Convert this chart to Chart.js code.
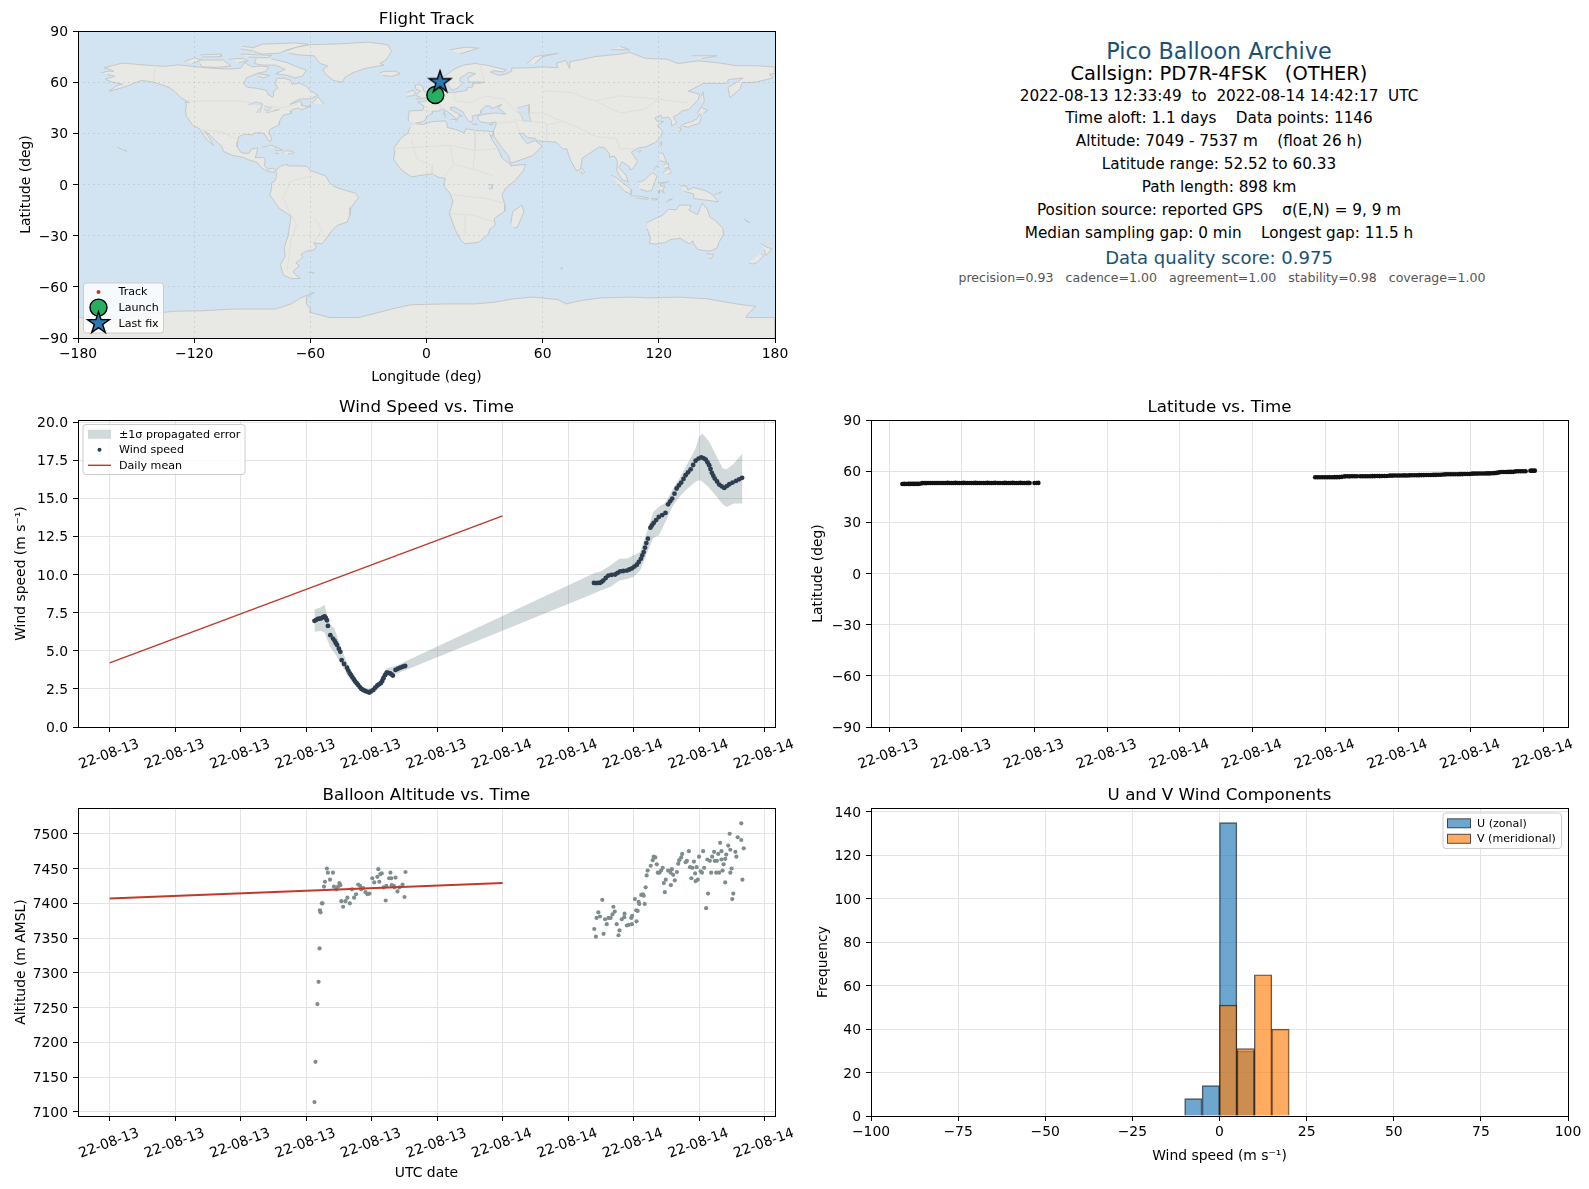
<!DOCTYPE html>
<html lang="en">
<head>
<meta charset="UTF-8" />
<title>Pico Balloon Archive</title>
<script src="https://cdn.jsdelivr.net/npm/chart.js"></script>
<style>
  body { margin:0; background:#fff; width:1589px; height:1189px; position:relative; overflow:hidden; font-family:"DejaVu Sans",sans-serif; }
  canvas { position:absolute; }
  .info { position:absolute; left:871px; width:696px; text-align:center; white-space:pre; line-height:1; transform:translateY(-50%); }
</style>
</head>
<body>
<canvas id="mapChart"></canvas>
<canvas id="windChart"></canvas>
<canvas id="latChart"></canvas>
<canvas id="altChart"></canvas>
<canvas id="histChart"></canvas>
<div class="info" style="top:51px;font-size:22.3px;color:#1a5276">Pico Balloon Archive</div>
<div class="info" style="top:74px;font-size:19.4px;color:#000">Callsign: PD7R-4FSK   (OTHER)</div>
<div class="info" style="top:97px;font-size:15.25px">2022-08-13 12:33:49  to  2022-08-14 14:42:17  UTC</div>
<div class="info" style="top:119px;font-size:15.25px">Time aloft: 1.1 days    Data points: 1146</div>
<div class="info" style="top:142px;font-size:15.25px">Altitude: 7049 - 7537 m    (float 26 h)</div>
<div class="info" style="top:165px;font-size:15.25px">Latitude range: 52.52 to 60.33</div>
<div class="info" style="top:188px;font-size:15.25px">Path length: 898 km</div>
<div class="info" style="top:211px;font-size:15.25px">Position source: reported GPS    σ(E,N) = 9, 9 m</div>
<div class="info" style="top:234px;font-size:15.25px">Median sampling gap: 0 min    Longest gap: 11.5 h</div>
<div class="info" style="top:258px;font-size:18px;color:#1a5276">Data quality score: 0.975</div>
<div class="info" style="top:278px;left:874px;font-size:12.57px;color:#555">precision=0.93   cadence=1.00   agreement=1.00   stability=0.98   coverage=1.00</div>
<script>
// wind speed, hours since 22-08-13 00:00
const windHours = [12.51,12.62,12.72,12.82,12.92,13.03,13.13,13.2,13.27,13.33,13.48,13.64,13.74,13.82,13.89,14.0,14.09,14.17,14.32,14.5,14.58,14.67,14.75,14.83,14.92,15.0,15.09,15.18,15.28,15.38,15.48,15.59,15.7,15.86,15.95,16.1,16.22,16.35,16.45,16.56,16.65,16.72,16.82,16.92,17.02,17.13,17.22,17.3,17.46,17.6,17.75,17.9,18.05,
  29.58,29.7,29.82,29.95,30.05,30.15,30.3,30.46,30.65,30.87,31.02,31.18,31.38,31.59,31.75,31.9,32.05,32.2,32.32,32.45,32.53,32.62,32.7,32.78,32.88,33.03,33.12,33.23,33.38,33.54,33.75,33.95,34.11,34.24,34.36,34.5,34.63,34.77,34.91,35.05,35.18,35.33,35.49,35.64,35.79,35.97,36.14,36.28,36.41,36.52,36.62,36.7,36.78,36.87,36.96,37.1,37.23,37.38,37.54,37.7,37.85,38.05,38.26,38.45,38.63];
const windSpeed = [6.96,7.03,7.09,7.11,7.13,7.2,7.26,7.15,7.0,6.63,6.02,5.8,5.65,5.5,5.37,5.13,4.93,4.39,4.13,3.89,3.7,3.52,3.4,3.26,3.12,2.98,2.87,2.76,2.62,2.5,2.43,2.37,2.32,2.26,2.33,2.43,2.58,2.72,2.8,2.87,3.02,3.2,3.4,3.57,3.55,3.52,3.45,3.37,3.74,3.82,3.89,3.95,4.0,
  9.45,9.44,9.45,9.45,9.52,9.6,9.77,9.93,9.97,10,10.1,10.2,10.23,10.26,10.33,10.4,10.52,10.64,10.82,11.03,11.25,11.47,11.76,12.06,12.35,13.07,13.22,13.38,13.57,13.77,13.9,14.04,14.6,14.8,14.98,15.3,15.64,15.84,16.03,16.27,16.51,16.7,16.9,17.18,17.46,17.6,17.68,17.62,17.54,17.35,17.17,16.92,16.67,16.48,16.29,16.1,15.9,15.78,15.68,15.8,15.92,16.03,16.14,16.24,16.34];
const bandHours = [12.51,12.9,13.13,13.33,13.5,13.74,14.15,14.46,14.67,15.08,15.38,15.8,16.1,16.5,16.9,17.5,18.05,29.58,30.0,30.6,31.13,31.6,32.0,32.4,32.85,33.2,33.55,33.95,34.4,34.8,35.3,35.8,36.0,36.2,36.6,37.0,37.45,37.7,38.1,38.65];
const bandLow = [6.24,6.3,6.2,5.6,5.2,4.85,4.1,3.52,3.15,2.65,2.3,2.1,2.2,2.6,3.3,3.5,3.72,8.75,8.95,9.2,9.6,9.7,9.85,10.26,11.47,12.4,12.57,13.44,14.5,15.1,15.64,16.1,16.18,16.1,15.7,15.2,14.6,14.43,14.65,14.65];
const bandHigh = [7.7,7.85,8.02,7.1,6.7,6.45,5.15,4.35,3.74,3.1,2.65,2.5,2.6,3.1,3.85,4.0,4.3,10.09,10.2,10.6,11.03,11.05,11.25,11.47,12.9,14.1,14.45,14.7,15.6,16.3,17.28,18.3,19.03,19.25,18.75,17.9,16.95,16.9,17.25,17.94];
const dailyHours = [0,24];
const dailyWind = [4.2,13.85];
const dailyAlt = [7407,7429];

// altitude samples
const altHours = [12.51,12.57,12.69,12.76,12.82,12.88,12.84,12.96,13.0,13.09,13.15,13.27,13.33,13.46,13.64,13.7,13.85,13.95,14.03,14.09,14.15,14.26,14.4,14.52,14.67,14.8,14.93,15.05,15.18,15.3,15.36,15.49,15.63,15.75,15.87,16.04,16.16,16.35,16.41,16.47,16.53,16.62,16.74,16.86,16.9,17.07,17.15,17.2,17.23,17.35,17.4,17.46,17.58,17.7,17.89,18.01,18.07,
  29.6,29.7,29.74,29.85,29.95,30.09,30.17,30.26,30.36,30.48,30.6,30.71,30.77,30.85,30.97,31.08,31.14,31.28,31.43,31.45,31.59,31.71,31.86,31.9,31.92,32.08,32.16,32.18,32.25,32.31,32.35,32.47,32.57,32.62,32.68,32.74,32.8,32.86,33.05,33.17,33.23,33.33,33.42,33.48,33.58,33.68,33.78,33.85,33.91,33.97,34.11,34.26,34.28,34.34,34.42,34.52,34.65,34.73,34.79,34.91,34.97,35.18,35.26,35.38,35.45,35.53,35.59,35.69,35.76,35.79,35.85,35.92,36.0,36.1,36.18,36.25,36.31,36.43,36.51,36.55,36.66,36.74,36.8,36.92,36.96,37.05,37.09,37.17,37.23,37.29,37.37,37.37,37.44,37.5,37.6,37.6,37.66,37.78,37.87,37.91,37.91,37.99,38.03,38.09,38.22,38.28,38.36,38.58,38.58,38.65,38.73];
const altMeters = [7114,7172,7255,7287,7335,7387,7390,7400,7400,7424,7431,7450,7444,7434,7444,7424,7420,7424,7429,7426,7403,7395,7403,7408,7400,7420,7408,7413,7427,7425,7420,7422,7416,7413,7414,7436,7430,7438,7449,7431,7442,7443,7423,7404,7425,7436,7444,7436,7426,7425,7423,7437,7417,7423,7427,7409,7445,
  7363,7352,7379,7387,7381,7405,7356,7377,7370,7379,7379,7384,7395,7388,7370,7354,7361,7377,7380,7385,7368,7369,7379,7370,7382,7406,7390,7374,7389,7402,7399,7412,7413,7411,7399,7423,7440,7447,7454,7462,7467,7466,7456,7444,7444,7447,7451,7429,7416,7434,7447,7444,7426,7449,7441,7433,7445,7457,7462,7466,7471,7459,7461,7475,7452,7436,7451,7460,7443,7432,7452,7434,7467,7446,7444,7475,7451,7393,7463,7414,7461,7444,7467,7474,7461,7444,7461,7471,7444,7487,7475,7463,7447,7456,7430,7464,7470,7483,7500,7477,7444,7450,7406,7414,7474,7467,7495,7515,7491,7434,7479];

// latitude samples
const latHours = [12.55,12.63,12.71,12.79,12.87,12.95,13.03,13.11,13.19,13.27,13.37,13.45,13.53,13.61,13.7,13.78,13.86,13.94,14.02,14.1,14.18,14.26,14.34,14.42,14.5,14.58,14.66,14.74,14.82,14.9,15.0,15.08,15.16,15.24,15.32,15.4,15.48,15.56,15.64,15.72,15.8,15.9,15.98,16.06,16.14,16.22,16.3,16.38,16.5,16.58,16.7,16.78,16.86,16.94,17.02,17.1,17.18,17.26,17.34,17.42,17.5,17.58,17.66,17.74,17.8,18.0,18.08,18.16,
  29.58,29.68,29.78,29.88,29.98,30.08,30.18,30.28,30.38,30.48,30.58,30.68,30.8,30.9,31.0,31.1,31.2,31.3,31.44,31.54,31.64,31.74,31.84,31.94,32.04,32.14,32.24,32.34,32.44,32.54,32.66,32.76,32.86,32.96,33.06,33.16,33.26,33.36,33.46,33.56,33.66,33.76,33.86,33.96,34.06,34.16,34.26,34.36,34.46,34.56,34.66,34.76,34.86,34.96,35.06,35.16,35.26,35.36,35.46,35.56,35.66,35.76,35.86,35.96,36.06,36.16,36.26,36.36,36.46,36.56,36.66,36.76,36.86,36.96,37.06,37.16,37.26,37.36,37.46,37.56,37.66,37.76,37.86,37.96,38.06,38.16,38.26,38.46,38.52,38.58,38.64];
const latDeg = [52.52,52.55,52.53,52.56,52.54,52.57,52.55,52.58,52.56,52.6,53.0,53.05,53.03,53.08,53.05,53.1,53.07,53.1,53.08,53.12,53.09,53.12,53.1,53.13,53.1,53.12,53.1,53.13,53.1,53.12,53.1,53.13,53.1,53.12,53.09,53.12,53.1,53.13,53.1,53.12,53.09,53.12,53.1,53.13,53.1,53.12,53.1,53.13,53.1,53.12,53.1,53.13,53.1,53.12,53.1,53.13,53.1,53.12,53.1,53.13,53.1,53.12,53.1,53.13,53.1,53.12,53.1,53.13,
  56.45,56.44,56.47,56.45,56.48,56.46,56.49,56.47,56.5,56.52,56.54,56.7,56.95,57.0,56.98,57.02,57.0,57.03,57.02,57.05,57.04,57.08,57.06,57.1,57.12,57.15,57.14,57.18,57.2,57.22,57.4,57.42,57.45,57.44,57.48,57.5,57.55,57.52,57.58,57.6,57.62,57.65,57.68,57.7,57.72,57.76,57.8,57.78,57.84,57.86,57.9,57.92,58.05,58.15,58.2,58.18,58.22,58.2,58.25,58.28,58.3,58.32,58.35,58.38,58.55,58.6,58.58,58.62,58.64,58.66,58.7,58.72,58.78,58.85,59.0,59.3,59.5,59.55,59.52,59.58,59.6,59.62,59.9,59.95,59.93,59.97,60.0,60.28,60.33,60.3,60.33];

// histogram bins, 5 m/s wide
const binCenters = [-7.5,-2.5,2.5,7.5,12.5,17.5];
const uCounts = [8,14,135,30,0,0];
const vCounts = [0,0,51,31,65,40];

// flight track
const trackLon = [4.55,4.8,5.2,5.6,6.0,6.4,6.7,7.0];
const trackLat = [52.52,53.0,53.1,54.5,56.5,57.6,59.0,60.33];
const launchLon = [4.55], launchLat = [52.52];
const lastLon = [7.0], lastLat = [60.33];

// coastlines [lon,lat]
const landShapes = [
  // North America
  [[-168,65.6],[-164,66.5],[-161.5,66.3],[-163.5,67.5],[-166.5,68.4],[-163,69.5],[-157,71.2],[-150,70.5],[-141,69.7],[-135,69.3],[-128,70.2],[-124,69.7],[-115,68.5],[-108,68],[-101,67.8],[-96,68.2],[-94,71.5],[-90,69],[-85,69.5],[-81.5,68.8],[-83,66.3],[-87,65.3],[-93,62.5],[-94.5,59],[-92.5,57],[-88,56.5],[-82.5,55.2],[-82,52.9],[-79.5,51.2],[-79,52],[-79,54.7],[-76.8,56.5],[-78,59],[-77.5,62.3],[-73.5,62.3],[-70,61],[-69.5,58.8],[-65.5,59.5],[-62,57.5],[-60,55],[-56,52.5],[-60,50.2],[-65,50.2],[-68,48.8],[-70.5,47],[-65,49],[-64.5,47.5],[-64.5,46.2],[-61,45.8],[-60,46.8],[-60,45.8],[-65,43.7],[-66,45],[-69,44],[-70.5,43],[-70,41.7],[-74,40.6],[-75.5,38],[-76,36.5],[-76,35],[-78,34],[-81,32],[-81.4,30.5],[-80,26.8],[-80.5,25.2],[-81.8,26],[-82.8,28],[-84,30],[-86,30.4],[-89,30.2],[-90,29.1],[-94,29.5],[-97,28],[-97.5,25],[-97.8,22.2],[-96,19],[-94,18.2],[-91.5,18.5],[-90.5,20.8],[-87.2,21.5],[-87.7,18.2],[-88.5,15.8],[-84,15.8],[-83.3,14.5],[-83.7,11],[-82,9],[-79.5,9.5],[-77.5,8.6],[-78,7.5],[-80,7.3],[-83,8.2],[-85.5,10],[-87.5,13],[-92,14.5],[-95,16],[-100,17],[-105,19.5],[-105.5,22],[-109,25.8],[-112.5,29.5],[-114.7,31.5],[-112,27],[-110,23],[-112,24.7],[-115,28.5],[-117,32.5],[-120.5,34.5],[-124,40],[-124.5,43],[-124,46.5],[-124.7,48.4],[-122.5,48],[-127,51],[-130,54.5],[-133,57],[-137,58.5],[-141,60],[-147,61],[-151,59.5],[-154,58],[-158,56.5],[-164,54.7],[-160,58],[-157,58.8],[-162,60],[-166,61.7],[-161,63.5],[-165,64.5]],
  // Greenland
  [[-73,78.2],[-67,80.5],[-60,82],[-45,82.5],[-30,83.5],[-20,82],[-18,78],[-21,73],[-24,71],[-22,70],[-32,68],[-38,65.5],[-42,63],[-43.5,60],[-48,61],[-52,64.5],[-53.5,67.5],[-51,69.5],[-55,71],[-58,75.5],[-66,76],[-71,77]],
  // Arctic Canada
  [[-80,73.7],[-72,71.5],[-68,69.5],[-62,67],[-64,63.5],[-68,62.5],[-72,64],[-78,65],[-73,67.5],[-78,70],[-85,70],[-89,71],[-88,73.7]],
  [[-117,73],[-105,73],[-101,69.5],[-108,68.7],[-116,69],[-117,71]],
  [[-125,72],[-120,74.3],[-116,73],[-121,71]],
  [[-90,80],[-85,82.3],[-68,83],[-61,82.2],[-72,79],[-76,77],[-85,76.5],[-89,78]],
  [[-96,76.5],[-80,75.7],[-82,74.5],[-92,74.7]],
  [[-117,76],[-106,76.5],[-106,75],[-116,74.8]],
  [[-95,81],[-87,80],[-90,78.5],[-96,79.5]],
  [[-102,73.5],[-95,74],[-92,72.5],[-97,71.5]],
  [[-87,65],[-81,64],[-84,62.5],[-87,63.5]],
  [[-59,47.7],[-56,51.5],[-53,47]],
  // Caribbean, Hawaii
  [[-85,21.8],[-80,23.1],[-74.2,20.2],[-77.7,19.9],[-78,21.5]],
  [[-74.4,18.5],[-73,19.9],[-69,19.5],[-68.4,18.6],[-71.5,17.8]],
  [[-78.3,18.3],[-76.3,18.2],[-77,17.8]],
  [[-160,22],[-155,19.5],[-155.5,20.5]],
  // Arctic Eurasia
  [[12,79],[20,80.5],[27,80],[17,76.5]],
  [[52,71],[56,75],[68,77],[60,75],[56,71]],
  [[95,79],[105,79],[100,81]],
  [[137,75.5],[150,75.5],[142,73.8]],
  // Iceland, UK, Ireland
  [[-24,65.5],[-22,66.3],[-16,66.5],[-13.6,65],[-18,63.4],[-22.5,63.9]],
  [[-5.5,50],[1.3,51.2],[1.7,52.7],[0,53.5],[-1.5,55],[-2,57.5],[-3.5,58.6],[-6,58.3],[-5.5,56],[-3,54.8],[-4.8,53.2],[-5,51.8],[-3,51.3]],
  [[-10,51.7],[-6.2,52.2],[-6,54],[-7.3,55.3],[-10,54]],
  // Eurasia
  [[-9,37],[-9.5,38.7],[-8.8,43.2],[-2,43.4],[-1.2,46],[-4.5,48.3],[-1.5,48.7],[1.5,50.5],[3.5,51.4],[5,53],[8.5,54],[8.2,56.7],[10.5,57.7],[10,55],[11,54],[14,54],[18.5,54.7],[21,55.2],[21,57],[23.5,57],[24.3,58.3],[23.5,59.2],[28,59.5],[30,60],[25,60.2],[22,60],[21.3,62.5],[25.3,65],[22,65.8],[17.5,62.5],[17.2,60.7],[18.8,59.7],[16.5,57],[14.3,55.5],[12.8,55.5],[11,59],[8,58],[5.3,59],[5,62],[10,64],[14,67.5],[19,70],[25,71],[31,70],[41,67.3],[40,66],[34.5,66.7],[33,66],[37,64],[41,64.7],[44,66.5],[44,68.3],[54,68.5],[60,69],[68,68.5],[67,71],[72,72.8],[74,68],[74,72],[81,73.5],[87,75],[100,76.5],[105,77.5],[113,74],[124,73.5],[130,71],[140,72.5],[150,71.5],[160,69.7],[170,69.7],[180,68.9],[180,65],[177,64.7],[179,62.5],[170,60],[163,59.8],[162,56],[156.7,51],[155.7,57],[161,60.5],[163.5,62.5],[156,61.5],[155,59.3],[143,59.3],[135.3,54.7],[141,53],[140.5,50],[135.5,44],[132,43.2],[129.7,41],[127.5,39.8],[129.3,36],[126.5,34.4],[126.5,37.5],[125,39.5],[121.5,39],[121,40.8],[118,39],[119,37.3],[122.5,37],[119.3,34.8],[122,31],[121,28],[118,24.5],[113,22],[109.5,21.5],[105.8,19],[109,13.5],[106.5,9],[105,8.8],[105,10.3],[101,13.3],[99.3,10],[103,5.5],[104.2,1.4],[101,3],[98.3,8],[98.5,14],[97,16.7],[94.3,16],[94.5,18],[92,21.5],[89,22],[86.5,20],[80.5,15.5],[80,12],[79.5,9],[77.5,8],[74.5,14],[72.8,19.5],[72.5,21],[70.5,20.8],[69,22.5],[67,24.8],[61.5,25.2],[57,25.7],[56.3,27],[52,27.5],[50,30],[48,30],[50,26.5],[51.3,25],[52,24],[56,25.8],[59.8,22.5],[55,17],[45,13],[43.3,12.7],[42.5,16.5],[39,21.5],[35,28],[34.8,29.5],[34.6,31.5],[36,35.5],[36,36.7],[32,36],[28,36.7],[26.5,38.5],[26.5,40],[29,41],[35,42],[41,41.3],[37,45],[39,47],[35,45.2],[33.5,44.5],[33,46],[30.5,46],[28,43.5],[28,41.5],[26,40.7],[23.5,40.2],[24,38],[23,36.5],[21.5,37.5],[19.5,41],[19,42.5],[14.5,45.3],[12.3,45.3],[12.5,44],[16,41.7],[18.5,40],[16.7,40.3],[16,38],[12.3,41.5],[8.8,44.4],[6,43],[3.2,43],[3,41.7],[0,40],[-0.5,38],[-2,36.8],[-5.5,36]],
  // Mediterranean islands
  [[12.5,38],[15.5,38.2],[15,36.8]],[[8.3,41],[9.7,41],[9.5,39]],[[8.7,43],[9.5,42.8],[9.2,41.5]],[[23.5,35.5],[26.3,35.3],[24.5,35]],[[32.3,35],[34.5,35.6],[33.5,34.7]],
  // Japan and nearby
  [[130.9,34],[133,35.5],[137,37],[139.7,38.5],[141,41.3],[142,39.5],[140.8,35.7],[137,34.6],[135.5,33.6],[132.5,34.2]],
  [[130,33.3],[131.7,33],[131,31.2],[130.2,31.3]],
  [[140,41.7],[141.7,45.4],[145.3,43.5],[143,42]],
  [[142,46],[143.5,49],[142.8,54.3],[142,52]],
  [[120.2,23],[121.5,25.2],[121,22]],
  [[109,19.5],[110.7,20],[110,18.4]],
  [[80,9.7],[81.8,7.5],[80.5,6],[79.8,8]],
  // Africa
  [[-5.8,35.8],[-2,35.2],[3,36.9],[10,37.3],[11,34],[10.5,33.5],[15,32.3],[19.5,30.3],[20.5,32.7],[25,31.7],[31,31.4],[33,31],[34.5,31.2],[34,28],[32.7,29.5],[34,26],[37,21],[39,15.5],[43.2,12],[43.5,11],[51.2,11.8],[50,8],[46,2.5],[41,-2],[39,-6],[40.5,-12],[40.5,-15.5],[35,-20],[35.5,-24],[32.8,-26],[32,-29],[27,-33.8],[20,-34.8],[18,-33],[15,-27],[11.8,-17],[13.7,-10],[12,-5],[9,-1],[9.7,3.5],[6,4.3],[3,6.3],[-4,5.2],[-7.7,4.4],[-13,8.5],[-17,14.7],[-16.3,19.5],[-17,21],[-13,27.5],[-9.7,30],[-8.5,33.5]],
  [[43.5,-23],[44.5,-16],[49.3,-12],[50.3,-16],[47,-25],[45,-25.5]],
  // South America
  [[-77.5,8.5],[-75.5,10.7],[-72,12],[-71.5,10.8],[-68,11],[-62,10.7],[-60,8.3],[-52,5],[-50,1],[-48,-1],[-44,-2.7],[-37,-5],[-35,-7.5],[-39,-13.5],[-39.5,-18],[-41,-22],[-46,-24],[-48.5,-26.5],[-52,-32],[-54,-34.8],[-58.3,-34.2],[-56.8,-36.5],[-58,-38.3],[-62,-39],[-65,-41],[-63.7,-42.5],[-67.5,-46],[-65.7,-47.7],[-69,-51],[-68,-52.5],[-65.2,-55],[-70,-55.2],[-74,-53],[-75.5,-47],[-73,-42],[-73.5,-37],[-71.5,-30],[-70,-18.5],[-76,-14],[-81,-6],[-80,-2.5],[-80,0.8],[-78.5,2],[-77.5,4],[-77.5,7]],
  [[-61,-51.5],[-58,-51.5],[-59,-52.3]],
  // Philippines, Indonesia
  [[120.4,18.4],[122.2,18.4],[124,13],[120.6,14]],
  [[122,7],[125.5,9.7],[126.5,7],[124.5,6]],
  [[122.5,11.7],[125,12.3],[125,10],[123,9.5]],
  [[117.2,8.4],[119.5,11.3],[119,10]],
  [[109,1.5],[111,1.7],[113,3.2],[116.7,7],[119,5],[117.7,1],[116.3,-3.5],[114,-4],[110.3,-2.8]],
  [[95.3,5.6],[98,4],[103.7,-1],[106,-3.2],[105.7,-5.8],[102.3,-4],[99,0]],
  [[105.2,-6.7],[108.5,-6.7],[114.5,-7.7],[114.4,-8.7],[108,-7.8]],
  [[119.7,0.8],[125,1.5],[120.8,0.4],[121,-1],[123.3,-1],[122,-3],[122.8,-5],[120.4,-3],[120.3,-5.6],[119.4,-3.3]],
  [[131,-0.8],[134.2,-0.8],[135,-3.3],[138,-1.7],[144.5,-3.8],[147.8,-6],[150.8,-10.3],[147,-9.5],[143,-9],[138,-8.2],[138,-5.5],[133,-4]],
  [[116,-8.3],[119,-8.3],[119,-9],[116.5,-9]],
  [[123.7,-10.2],[127,-8.4],[125,-9]],
  [[148.5,-6],[152.3,-4.2],[151,-6]],
  [[164,-20.2],[167,-22.3],[165,-21.5]],
  // Australia and NZ
  [[113.7,-22.5],[116.8,-20.6],[122,-18],[125,-14.5],[129,-14.8],[130.8,-12],[136.8,-12.2],[135.5,-15],[140,-17.7],[141.6,-13],[142.5,-10.8],[145.3,-15],[146.3,-19],[149,-21],[153,-25.5],[153.5,-29],[151,-34],[150,-37.5],[146.3,-39],[143.5,-38.8],[140,-38],[138,-34.8],[137.7,-33],[135.7,-34.8],[131,-31.5],[126,-32.3],[123.5,-34],[118,-35],[115,-34.3],[115.7,-31.5],[114,-26]],
  [[144.7,-40.8],[148.3,-40.9],[147,-43.6],[145.5,-42.8]],
  [[172.7,-34.5],[175.5,-36.7],[178.5,-37.7],[175.3,-41.6],[174.8,-39.5],[174.3,-38]],
  [[172.7,-40.5],[174.2,-41.7],[170.7,-45.8],[168.3,-46.6],[166.5,-45.8]],
  [[69,-49],[70.5,-49],[69.5,-50]],
  // Antarctica
  [[-180,-90],[-180,-78],[-160,-79],[-155,-78],[-146,-76],[-130,-74.3],[-115,-74],[-100,-73],[-90,-73],[-78,-73],[-70,-70],[-65,-66.5],[-58,-63.3],[-62,-66],[-62,-70],[-60,-73],[-60,-75],[-50,-78],[-35,-78],[-28,-76],[-18,-73],[-8,-70.5],[10,-70],[25,-70],[35,-69],[45,-67],[55,-66],[68,-67.5],[72,-70],[80,-68],[90,-66.5],[105,-66],[115,-66.5],[130,-66],[145,-67],[160,-70],[170,-71.5],[166,-76],[165,-78],[180,-78],[180,-90]]
];
// inland water, painted over the land
const waterShapes = [
  [[47,45],[53,46.8],[53,41],[54,37],[50,37.3],[49,40.5],[47,43]],
  [[-92,46.8],[-88,48.5],[-85,47.5],[-85,46.5]],
  [[-88,42],[-85,46],[-86,42]],
  [[-84,46],[-80,45],[-82,43],[-84,44]],
  [[-83,42],[-79,43],[-76,44],[-79,43.5]],
  [[32,0],[34,0],[34,-2.5],[32,-2.5]]
];
// a few borders, very faint
const borderLines = [
  [[-140,70],[-141,60]],[[-124,49],[-95,49],[-83,46],[-75,45],[-67,47]],[[-117,32],[-106,31],[-97,26]],
  [[-70,-18],[-67,-23],[-70,-33],[-72,-50]],[[-60,5],[-70,2],[-74,-8],[-70,-18]],[[-58,-20],[-54,-26],[-58,-34]],
  [[-17,21],[12,23],[25,20],[37,21]],[[25,32],[25,20],[24,9],[35,5]],[[12,23],[14,12],[9,4]],[[-8,27],[-5,15],[3,11],[3,6]],[[14,12],[24,9]],[[13,-6],[30,-8],[40,-11]],[[12,-17],[25,-18],[35,-22]],[[20,-29],[20,-18]],
  [[2,43],[-2,43.5]],[[3,50],[7,47],[7,44]],[[14,54],[15,49],[23,48],[30,52],[40,50],[47,42]],[[28,70],[30,60]],[[48,42],[60,42],[70,37],[75,35]],[[60,55],[75,54],[87,49],[100,52],[120,50],[135,48]],[[87,49],[100,42],[112,44],[120,50]],[[75,35],[88,28],[98,27],[100,21],[108,21]],[[62,25],[62,35],[70,37]],[[36,36],[46,37],[48,30]],[[45,38],[62,36]]
];

const tickFont = { family:'"DejaVu Sans"', size:13.9 };
const inkColor = "#000";
const gridColor = "#e3e3e3";

// matplotlib look: frame on all four sides plus optional background
const framePlugin = {
  id:"frame",
  beforeDraw(chart, args, opts) {
    if (!opts.background) return;
    const a = chart.chartArea, ctx = chart.ctx;
    ctx.save(); ctx.fillStyle = opts.background;
    ctx.fillRect(a.left, a.top, a.right-a.left, a.bottom-a.top); ctx.restore();
  },
  afterDraw(chart, args, opts) {
    const a = chart.chartArea, ctx = chart.ctx;
    ctx.save(); ctx.strokeStyle = inkColor; ctx.lineWidth = 1;
    ctx.strokeRect(Math.round(a.left)+0.5, Math.round(a.top)+0.5, Math.round(a.right-a.left), Math.round(a.bottom-a.top));
    drawLegend(chart, opts.legend);
    ctx.restore();
  }
};

function starPath(ctx, cx, cy, r) {
  ctx.beginPath();
  for (let i = 0; i < 10; i++) {
    const rad = i % 2 ? r*0.382 : r;
    const ang = -Math.PI/2 + i*Math.PI/5;
    ctx[i ? "lineTo" : "moveTo"](cx + rad*Math.cos(ang), cy + rad*Math.sin(ang));
  }
  ctx.closePath();
}

function drawLegend(chart, lg) {
  if (!lg) return;
  const ctx = chart.ctx, a = chart.chartArea;
  const x = lg.right != null ? a.right - lg.right - lg.w : a.left + lg.left;
  const y = lg.bottom != null ? a.bottom - lg.bottom - lg.h : a.top + lg.top;
  ctx.save();
  ctx.fillStyle = "rgba(255,255,255,0.8)"; ctx.strokeStyle = "#ccc"; ctx.lineWidth = 1;
  ctx.beginPath(); ctx.roundRect(x, y, lg.w, lg.h, 3); ctx.fill(); ctx.stroke();
  ctx.font = '11.1px "DejaVu Sans"'; ctx.textBaseline = "middle";
  lg.items.forEach((it, i) => {
    const cy = y + lg.pad + lg.step*i + lg.step/2;
    const sx = x + lg.sx;
    if (it.kind === "patch") { ctx.fillStyle = it.fill; ctx.strokeStyle = it.edge; ctx.lineWidth = 1; ctx.fillRect(sx-11.5,cy-4.5,23,9); if (it.edge!=="none") ctx.strokeRect(sx-11.5,cy-4.5,23,9); }
    if (it.kind === "line") { ctx.strokeStyle = it.color; ctx.lineWidth = 1.4; ctx.beginPath(); ctx.moveTo(sx-11.5,cy); ctx.lineTo(sx+11.5,cy); ctx.stroke(); }
    if (it.kind === "dot") { ctx.fillStyle = it.color; ctx.beginPath(); ctx.arc(sx,cy,it.r,0,7); ctx.fill(); if (it.edge) { ctx.strokeStyle = it.edge; ctx.lineWidth = 1.4; ctx.stroke(); } }
    if (it.kind === "star") { ctx.fillStyle = it.color; starPath(ctx,sx,cy,it.r); ctx.fill(); ctx.strokeStyle = it.edge; ctx.lineWidth = 1.4; ctx.stroke(); }
    ctx.fillStyle = "#000"; ctx.textAlign = "left";
    ctx.fillText(it.label, x + lg.tx, cy+0.5);
  });
  ctx.restore();
}

function minus(v) { return String(v).replace("-", "\u2212"); }
function dateLabel(h) { return h < 24 ? "22-08-13" : "22-08-14"; }

// places a canvas so its plot area lands on the given box
function makePanel(id, box, config) {
  const c = document.getElementById(id);
  const padL = 78, padT = 30, padR = 21, padB = 72;
  c.style.left = (box.left - padL) + "px";
  c.style.top = (box.top - padT) + "px";
  c.width = box.right - box.left + padL + padR;
  c.height = box.bottom - box.top + padT + padB;
  const sc = config.options.scales;
  sc.x.afterFit = s => { s.height = padB; };
  sc.y.afterFit = s => { s.width = padL; };
  sc.y.ticks.padding = 5;
  sc.y.ticks.labelOffset = 1.5;
  config.options.layout = { padding:{ top:4, right:padR, left:0, bottom:0 } };
  config.options.responsive = false;
  config.options.animation = false;
  config.options.plugins = Object.assign({ legend:{display:false}, tooltip:{enabled:false} }, config.options.plugins);
  config.plugins = [framePlugin];
  return new Chart(c, config);
}

function axisTitle(text, padding) {
  return { display:true, text, color:"#000", font:{ family:'"DejaVu Sans"', size:13.9 }, padding };
}

function xyAxis(min, max, stepTicks, fmt, extra) {
  return Object.assign({
    type:"linear", min, max,
    afterBuildTicks(s) { s.ticks = stepTicks.map(v => ({ value:v })); },
    grid:{ color:gridColor, tickColor:"#000", tickLength:5, lineWidth:1 },
    border:{ display:false },
    ticks:{ color:"#000", font:tickFont, callback:fmt, padding:3, autoSkip:false, maxRotation:0, minRotation:0 }
  }, extra);
}

function timeAxis(min, max, tickHours, titleText) {
  const ax = xyAxis(min, max, tickHours, dateLabel, {});
  ax.ticks.maxRotation = 20; ax.ticks.minRotation = 20;
  ax.ticks.labelOffset = 29;
  ax.ticks.padding = 4;
  if (titleText) ax.title = axisTitle(titleText, { top:0, bottom:6 });
  return ax;
}

// fullSize off keeps the title centred over the plot, not the canvas
function panelTitle(text, up) {
  return { display:true, fullSize:false, text, color:"#000", font:{ family:'"DejaVu Sans"', size:16.7, weight:"normal" }, padding:{ top:5-up, bottom:1+up } };
}

const pairs = (xs, ys) => xs.map((x, i) => ({ x, y:ys[i] }));

// Flight track map
const starCanvas = document.createElement("canvas");
starCanvas.width = 26; starCanvas.height = 26;
(function () {
  const ctx = starCanvas.getContext("2d");
  ctx.fillStyle = "#2a78b2"; ctx.strokeStyle = "#000"; ctx.lineWidth = 1.4;
  starPath(ctx, 13, 13.5, 11.5); ctx.fill(); ctx.stroke();
})();

const mapX = xyAxis(-180, 180, [-180,-120,-60,0,60,120,180], minus, { title:axisTitle("Longitude (deg)", { top:4, bottom:24 }) });
const mapY = xyAxis(-90, 90, [-90,-60,-30,0,30,60,90], minus, { title:axisTitle("Latitude (deg)", { top:18, bottom:0 }) });
[mapX, mapY].forEach(ax => {
  ax.grid.color = "rgba(120,130,135,0.2)";
  ax.grid.z = 1;
  ax.border.dash = [2,3];
});

makePanel("mapChart", { left:78, right:775, top:31, bottom:338 }, {
  type:"scatter",
  data:{ datasets:[
    ...landShapes.map(shape => ({
      data:shape.map(p => ({ x:p[0], y:p[1] })), showLine:true, fill:"shape", tension:0,
      backgroundColor:"#e8e8e4", borderColor:"#c4c8c8", borderWidth:1, pointRadius:0, order:6
    })),
    ...waterShapes.map(shape => ({
      data:shape.map(p => ({ x:p[0], y:p[1] })), showLine:true, fill:"shape", tension:0,
      backgroundColor:"#d2e4f1", borderColor:"#c4c8c8", borderWidth:0.8, pointRadius:0, order:5
    })),
    ...borderLines.map(line => ({
      data:line.map(p => ({ x:p[0], y:p[1] })), showLine:true, fill:false,
      borderColor:"#dcdcda", borderWidth:0.8, pointRadius:0, order:4
    })),
    { data:pairs(trackLon, trackLat), pointRadius:2, backgroundColor:"#c0392b", borderWidth:0, order:3 },
    { data:pairs(lastLon, lastLat), pointStyle:starCanvas, order:1, clip:false },
    { data:pairs(launchLon, launchLat), pointRadius:8.5, backgroundColor:"#27ae60", borderColor:"#000", borderWidth:1.4, order:2, clip:false }
  ]},
  options:{
    scales:{ x:mapX, y:mapY },
    plugins:{
      title:panelTitle("Flight Track", 0),
      frame:{ background:"#d2e4f1", legend:{ left:5.5, bottom:5, w:80, h:50, pad:1.2, step:15.6, sx:15, tx:35, items:[
        { kind:"dot", label:"Track", color:"#c0392b", r:2 },
        { kind:"dot", label:"Launch", color:"#27ae60", r:8.5, edge:"#000" },
        { kind:"star", label:"Last fix", color:"#2a78b2", r:11.5, edge:"#000" }
      ]}}
    }
  }
});

// Wind speed
const h4Ticks = [0,4,8,12,16,20,24,28,32,36,40];
makePanel("windChart", { left:78, right:775, top:420, bottom:727 }, {
  type:"scatter",
  data:{ datasets:[
    { data:pairs(bandHours, bandHigh), showLine:true, fill:"+1", tension:0, backgroundColor:"rgba(107,128,132,0.3)", borderWidth:0, pointRadius:0, order:3 },
    { data:pairs(bandHours, bandLow), showLine:true, fill:false, tension:0, borderWidth:0, pointRadius:0, order:3 },
    { data:pairs(windHours, windSpeed), pointRadius:2.4, backgroundColor:"#2c3e50", borderWidth:0, order:1 },
    { data:pairs(dailyHours, dailyWind), showLine:true, borderColor:"#c0392b", borderWidth:1.4, pointRadius:0, order:2 }
  ]},
  options:{
    scales:{
      x:timeAxis(-1.935, 40.64, h4Ticks),
      y:xyAxis(0, 20.13, [0,2.5,5,7.5,10,12.5,15,17.5,20], v => v.toFixed(1), { title:axisTitle("Wind speed (m s\u207B\u00B9)", { top:13, bottom:0 }) })
    },
    plugins:{
      title:panelTitle("Wind Speed vs. Time", 1),
      frame:{ legend:{ left:5, top:4.5, w:162, h:50, pad:2, step:15.5, sx:16.5, tx:36, items:[
        { kind:"patch", label:"\u00B11\u03C3 propagated error", fill:"rgba(107,128,132,0.3)", edge:"none" },
        { kind:"dot", label:"Wind speed", color:"#2c3e50", r:2 },
        { kind:"line", label:"Daily mean", color:"#c0392b" }
      ]}}
    }
  }
});

// Latitude
const h3Ticks = [12,15,18,21,24,27,30,33,36,39];
makePanel("latChart", { left:871, right:1568, top:420, bottom:727 }, {
  type:"scatter",
  data:{ datasets:[
    { data:pairs(latHours, latDeg), pointRadius:2.3, backgroundColor:"#111", borderWidth:0 }
  ]},
  options:{
    scales:{
      x:timeAxis(11.256, 40.01, h3Ticks),
      y:xyAxis(-90, 90, [-90,-60,-30,0,30,60,90], minus, { title:axisTitle("Latitude (deg)", { top:17, bottom:0 }) })
    },
    plugins:{ title:panelTitle("Latitude vs. Time", 1), frame:{} }
  }
});

// Altitude
makePanel("altChart", { left:78, right:775, top:808, bottom:1116 }, {
  type:"scatter",
  data:{ datasets:[
    { data:pairs(altHours, altMeters), pointRadius:2.1, backgroundColor:"#7f8c8d", borderWidth:0, order:2 },
    { data:pairs(dailyHours, dailyAlt), showLine:true, borderColor:"#c0392b", borderWidth:2, pointRadius:0, order:1 }
  ]},
  options:{
    scales:{
      x:timeAxis(-1.935, 40.64, h4Ticks, "UTC date"),
      y:xyAxis(7094, 7537, [7100,7150,7200,7250,7300,7350,7400,7450,7500], v => String(v), { title:axisTitle("Altitude (m AMSL)", { top:13, bottom:0 }) })
    },
    plugins:{ title:panelTitle("Balloon Altitude vs. Time", 1), frame:{} }
  }
});

// Histogram
const barEdge = "rgba(0,0,0,0.65)";
const histX = xyAxis(-100, 100, [-100,-75,-50,-25,0,25,50,75,100], minus, { title:axisTitle("Wind speed (m s\u207B\u00B9)", { top:4, bottom:23 }), offset:false });
histX.grid.offset = false;
makePanel("histChart", { left:871, right:1568, top:808, bottom:1116 }, {
  type:"bar",
  data:{ datasets:[
    { data:pairs(binCenters, uCounts), backgroundColor:"rgba(31,119,180,0.65)", borderColor:barEdge, borderWidth:1, order:2, grouped:false, barPercentage:1, categoryPercentage:1 },
    { data:pairs(binCenters, vCounts), backgroundColor:"rgba(255,127,14,0.65)", borderColor:barEdge, borderWidth:1, order:1, grouped:false, barPercentage:1, categoryPercentage:1 }
  ]},
  options:{
    scales:{
      x:histX,
      y:xyAxis(0, 141.75, [0,20,40,60,80,100,120,140], v => String(v), { title:axisTitle("Frequency", { top:22, bottom:0 }) })
    },
    plugins:{
      title:panelTitle("U and V Wind Components", 1),
      frame:{ legend:{ right:6.5, top:5, w:118.5, h:35.5, pad:2.5, step:15.5, sx:16, tx:34, items:[
        { kind:"patch", label:"U (zonal)", fill:"rgba(31,119,180,0.65)", edge:barEdge },
        { kind:"patch", label:"V (meridional)", fill:"rgba(255,127,14,0.65)", edge:barEdge }
      ]}}
    }
  }
});
</script>
</body>
</html>
